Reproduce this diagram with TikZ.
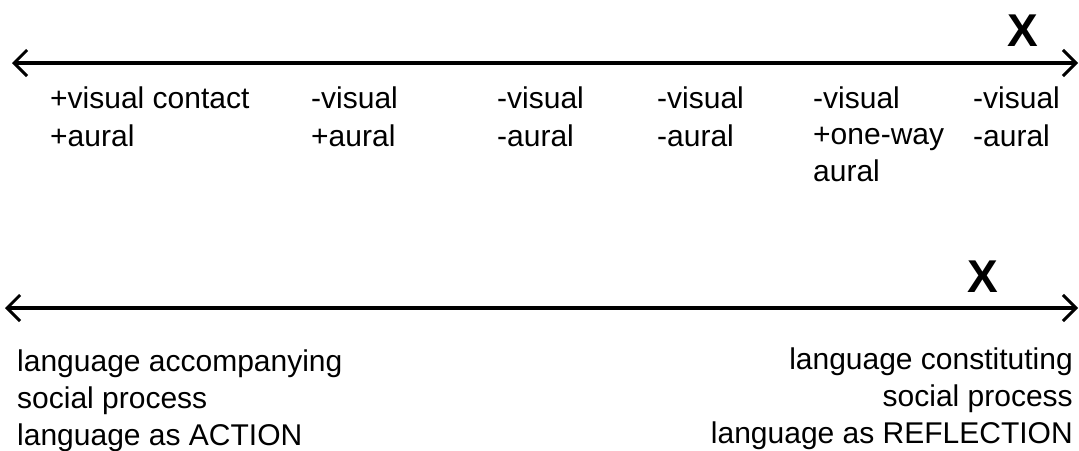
\documentclass[tikz,border=0pt]{standalone}
\usepackage{fontspec}
\setmainfont{Liberation Sans}
\usetikzlibrary{arrows.meta}
\begin{document}
\begin{tikzpicture}[x=1pt,y=-1pt,
  axis/.style={line width=3.4pt, {Straight Barb[length=13pt,width=26pt,line width=3pt]}-{Straight Barb[length=13pt,width=26pt,line width=3pt]}},
  lbl/.style={inner sep=0pt, align=left, anchor=base west, font=\fontsize{30}{38}\selectfont},
  lblr/.style={inner sep=0pt, align=right, anchor=base east, font=\fontsize{30}{37}\selectfont},
  lblb/.style={inner sep=0pt, align=left, anchor=base west, font=\fontsize{30}{37}\selectfont},
  xmark/.style={inner sep=0pt, font=\fontsize{46}{46}\selectfont\bfseries}
]
\useasboundingbox (0,0) rectangle (1079,450);
% top axis
\coordinate (t1) at (12,63);
\coordinate (t2) at (1078,63);
\draw[axis] (t1) -- (t2);
\node[xmark] (x1) at (1023,31) {X};
\node[lbl] (c1) at (50,146) {+visual contact\\+aural};
\node[lbl] (c2) at (311,146) {-visual\\+aural};
\node[lbl] (c3) at (497,146) {-visual\\-aural};
\node[lbl] (c4) at (657,146) {-visual\\-aural};
\node[lbl, font=\fontsize{30}{36.5}\selectfont] (c5) at (813,181) {-visual\\+one-way\\aural};
\node[lbl] (c6) at (973,146) {-visual\\-aural};
% bottom axis
\coordinate (b1) at (5,308);
\coordinate (b2) at (1078,308);
\draw[axis] (b1) -- (b2);
\node[xmark] (x2) at (983,277) {X};
\node[lblb] (l1) at (17,445) {language accompanying\\social process\\language as ACTION};
\node[lblr] (r1) at (1073,443) {language constituting\\social process\\language as REFLECTION};
\end{tikzpicture}
\end{document}
